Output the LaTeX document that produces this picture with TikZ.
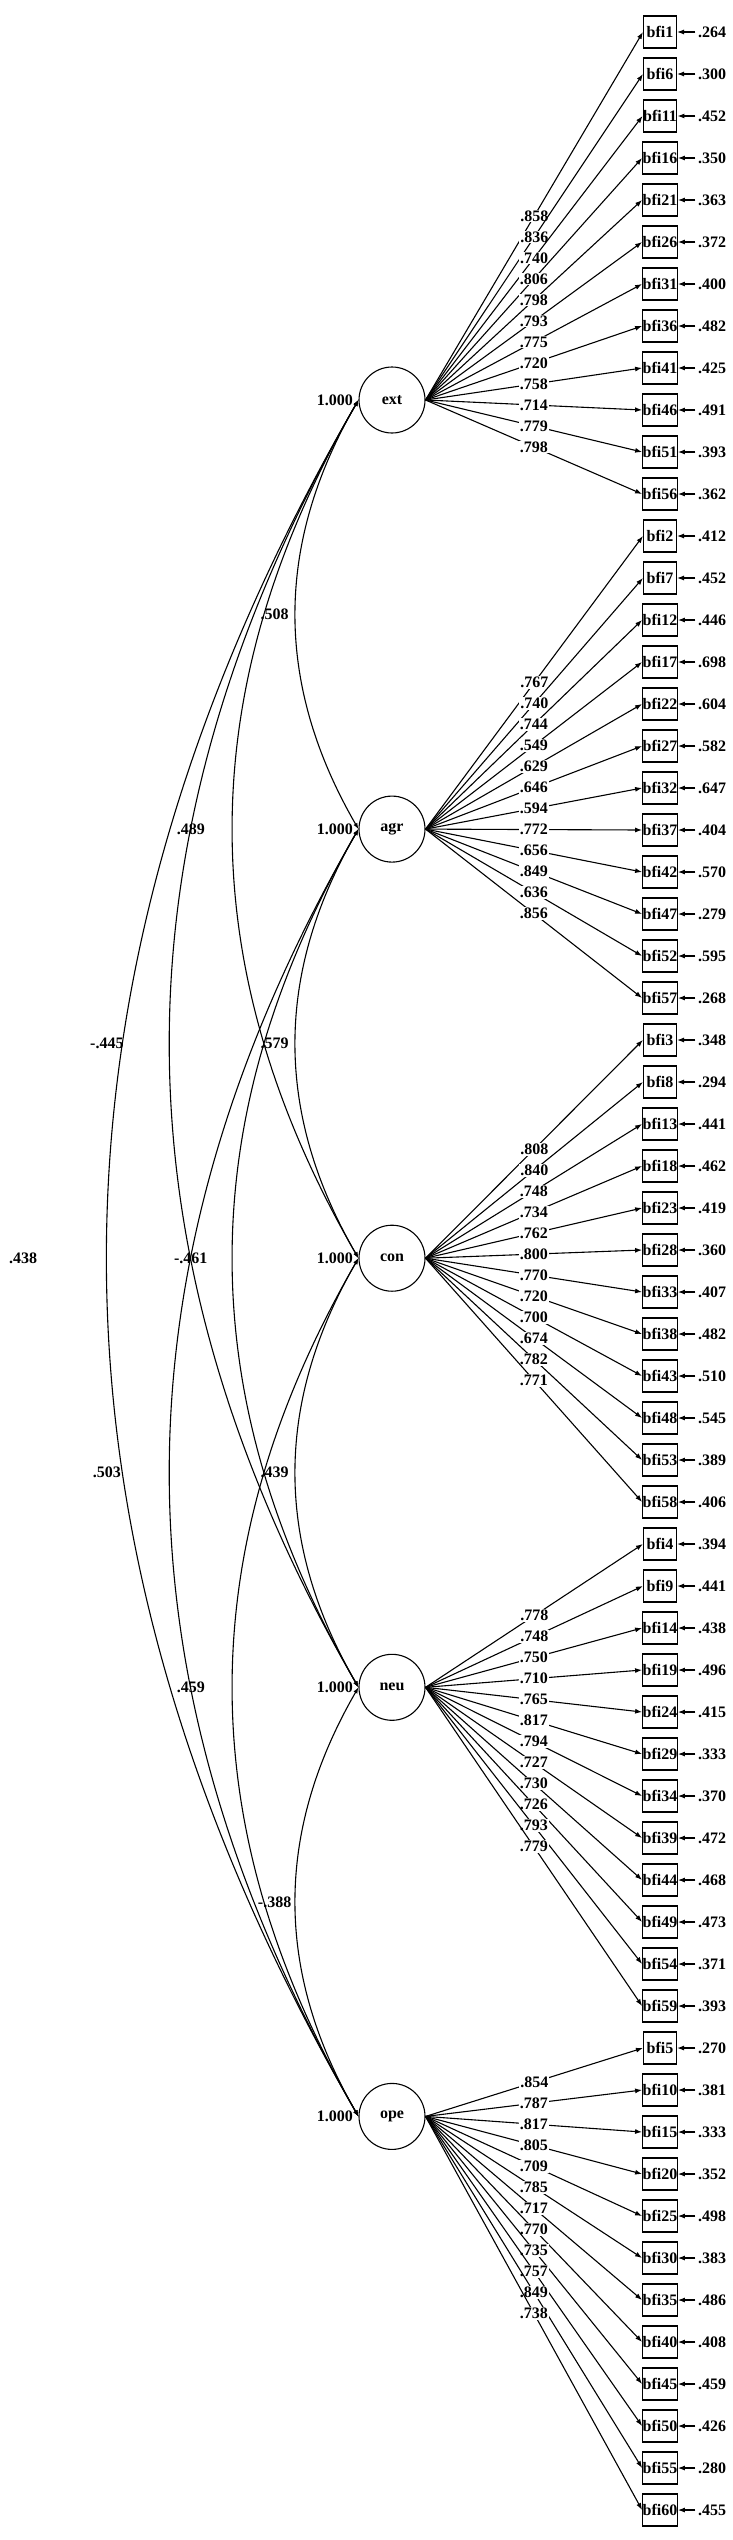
\documentclass[tikz,border=0pt]{standalone}
\usepackage{fontspec}
\setmainfont{Liberation Serif}
\usetikzlibrary{arrows.meta, positioning}

\begin{document}
\begin{tikzpicture}[x=1pt, y=-1pt, line width=1.1pt,
    every node/.style={font=\fontsize{16}{18}\selectfont\bfseries},
    latent/.style={draw, circle, minimum size=66pt, inner sep=0pt},
    obs/.style={draw, rectangle, minimum width=33pt, minimum height=32pt, inner sep=0pt},
    lbl/.style={fill=white, inner sep=1pt},
    load/.style={-{Latex[length=7pt, width=5pt]}},
    cov/.style={{Latex[length=6pt, width=4.5pt]}-{Latex[length=6pt, width=4.5pt]}}]
  \useasboundingbox (0,0) rectangle (733,2540);

  % factors
  \node[latent] (ext) at (392,400) {ext};
  \node[latent, below=362pt of ext] (agr) {agr};
  \node[latent, below=362pt of agr] (con) {con};
  \node[latent, below=362pt of con] (neu) {neu};
  \node[latent, below=362pt of neu] (ope) {ope};
  \foreach \lat in {ext,agr,con,neu,ope}
    \node[inner sep=1pt, left=4pt of \lat.west] (v\lat) {1.000};

  % covariances (arcs bent 30 deg to the left)
  \foreach \a/\b/\v/\k in {ext/agr/.508/1, agr/con/.579/1, con/neu/.439/1, neu/ope/-.388/1,
      ext/con/.489/2, agr/neu/-.461/2, con/ope/.459/2,
      ext/neu/-.445/3, agr/ope/.503/3, ext/ope/.438/4}
    \draw[cov] (\a.west) .. controls +({-83.8*\k},{145.1*\k}) and +({-83.8*\k},{-145.1*\k}) .. (\b.west)
      node[lbl, pos=0.5, xshift={-21pt*\k}] (c\a\b) {\v};

  % items, loadings, error variances
  \foreach \lat/\g/\items in {
      ext/0/{1/.858/.264, 6/.836/.300, 11/.740/.452, 16/.806/.350, 21/.798/.363, 26/.793/.372,
             31/.775/.400, 36/.720/.482, 41/.758/.425, 46/.714/.491, 51/.779/.393, 56/.798/.362},
      agr/1/{2/.767/.412, 7/.740/.452, 12/.744/.446, 17/.549/.698, 22/.629/.604, 27/.646/.582,
             32/.594/.647, 37/.772/.404, 42/.656/.570, 47/.849/.279, 52/.636/.595, 57/.856/.268},
      con/2/{3/.808/.348, 8/.840/.294, 13/.748/.441, 18/.734/.462, 23/.762/.419, 28/.800/.360,
             33/.770/.407, 38/.720/.482, 43/.700/.510, 48/.674/.545, 53/.782/.389, 58/.771/.406},
      neu/3/{4/.778/.394, 9/.748/.441, 14/.750/.438, 19/.710/.496, 24/.765/.415, 29/.817/.333,
             34/.794/.370, 39/.727/.472, 44/.730/.468, 49/.726/.473, 54/.793/.371, 59/.779/.393},
      ope/4/{5/.854/.270, 10/.787/.381, 15/.817/.333, 20/.805/.352, 25/.709/.498, 30/.785/.383,
             35/.717/.486, 40/.770/.408, 45/.735/.459, 50/.757/.426, 55/.849/.280, 60/.738/.455}}
  {
    \foreach \n/\l/\e [count=\j from 0] in \items {
      \node[obs] (bfi\n) at (660, {32+42*(12*\g+\j)}) {bfi\n};
      \node[inner sep=2pt] (e\n) at (712, {32+42*(12*\g+\j)}) {\e};
      \draw[load] (e\n) -- (bfi\n);
      \draw[load] (\lat.east) -- node[lbl] (l\n) {\l} (bfi\n.west);
    }
  }
\end{tikzpicture}
\end{document}
